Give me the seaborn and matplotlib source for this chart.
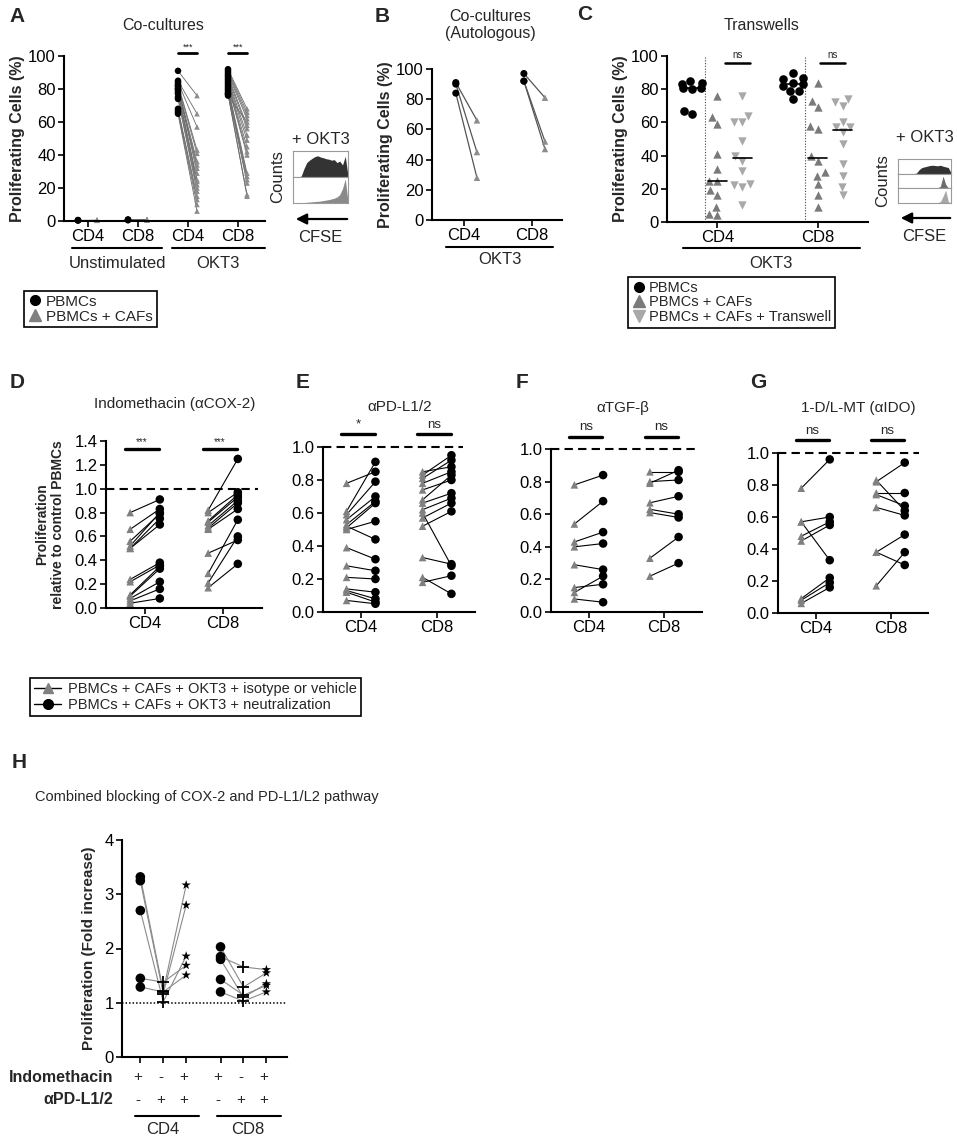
import numpy as np
import pandas as pd
import seaborn as sns
import matplotlib.pyplot as plt
from matplotlib.lines import Line2D

# ---------------- data ----------------
# A: co-cultures (% proliferating), PBMCs vs PBMCs + CAFs
a_unstim_cd4_pbmc = [0.5, 0.3, 0.6, 0.4]
a_unstim_cd4_caf = [0.5, 0.4, 0.6, 0.5]
a_unstim_cd8_pbmc = [0.8, 0.5, 0.9, 0.6]
a_unstim_cd8_caf = [0.9, 0.6, 1.0, 0.7]
a_okt3_cd4_pbmc = [91, 85, 84, 83, 82, 81, 80, 80, 79, 78, 77, 75, 74, 68, 67, 66, 65, 82]
a_okt3_cd4_caf = [76, 65, 57, 43, 41, 36, 34, 32, 25, 24, 22, 20, 18, 15, 13, 10, 6, 29]
a_okt3_cd8_pbmc = [92, 91, 90, 89, 88, 87, 86, 85, 84, 83, 82, 81, 80, 79, 78, 77, 77, 76]
a_okt3_cd8_caf = [68, 66, 64, 62, 58, 56, 52, 49, 45, 42, 40, 29, 27, 25, 23, 16, 15, 60]
a_ticklabels = ["CD4", "CD8", "CD4", "CD8"]

# flow cytometry histograms (relative counts along CFSE)
a_hist_okt3 = [0, 0, 0, 0.04, 0.35, 0.6, 0.7, 0.78, 0.85, 0.88, 0.83, 0.8, 0.76, 0.74, 0.7, 0.72, 0.6, 0.66, 0.5, 0.86, 0.05]
a_hist_caf = [0, 0, 0, 0, 0.02, 0.03, 0.04, 0.05, 0.06, 0.07, 0.08, 0.1, 0.12, 0.14, 0.17, 0.2, 0.25, 0.35, 0.6, 1.0, 0.05]
c_hist_okt3 = [0, 0, 0, 0, 0, 0, 0, 0.05, 0.3, 0.45, 0.5, 0.55, 0.6, 0.62, 0.6, 0.58, 0.62, 0.55, 0.5, 0.45, 0.05]
c_hist_caf = [0, 0, 0, 0, 0, 0, 0, 0, 0, 0, 0, 0, 0, 0.01, 0.02, 0.05, 0.15, 0.9, 0.3, 0.02, 0]
c_hist_tw = [0, 0, 0, 0, 0, 0, 0, 0, 0, 0, 0, 0, 0, 0.01, 0.02, 0.04, 0.1, 0.5, 0.95, 0.1, 0]

# B: autologous co-cultures
b_cd4_pbmc = [91, 90, 84]
b_cd4_caf = [66, 45, 28]
b_cd8_pbmc = [97, 92, 92]
b_cd8_caf = [81, 52, 47]

# C: transwells
c_cd4_pbmc = [84, 83, 85, 81, 81, 80, 67, 65]
c_cd4_caf = [76, 63, 59, 41, 32, 25, 25, 19, 16, 9, 5, 4]
c_cd4_tw = [76, 64, 60, 60, 49, 40, 37, 31, 23, 22, 21, 10]
c_cd8_pbmc = [90, 87, 86, 84, 83, 82, 79, 79, 74]
c_cd8_caf = [84, 73, 69, 58, 56, 40, 37, 30, 28, 23, 16, 9]
c_cd8_tw = [74, 72, 70, 60, 57, 57, 54, 47, 35, 28, 21, 16]

# D-G: proliferation relative to control PBMCs (isotype -> neutralization)
d_cd4_iso = [0.80, 0.66, 0.56, 0.52, 0.50, 0.50, 0.24, 0.22, 0.11, 0.10, 0.08, 0.06, 0.04]
d_cd4_neu = [0.91, 0.83, 0.79, 0.80, 0.75, 0.70, 0.38, 0.36, 0.35, 0.33, 0.22, 0.16, 0.08]
d_cd8_iso = [0.82, 0.80, 0.73, 0.72, 0.69, 0.67, 0.66, 0.46, 0.29, 0.21, 0.17]
d_cd8_neu = [1.25, 0.97, 0.95, 0.93, 0.90, 0.88, 0.83, 0.57, 0.74, 0.60, 0.37]

e_cd4_iso = [0.78, 0.61, 0.59, 0.56, 0.53, 0.51, 0.50, 0.52, 0.39, 0.28, 0.21, 0.14, 0.13, 0.12, 0.07]
e_cd4_neu = [0.85, 0.91, 0.79, 0.70, 0.67, 0.66, 0.55, 0.44, 0.32, 0.25, 0.20, 0.12, 0.08, 0.06, 0.05]
e_cd8_iso = [0.85, 0.83, 0.81, 0.78, 0.74, 0.68, 0.66, 0.62, 0.57, 0.60, 0.52, 0.33, 0.21, 0.18]
e_cd8_neu = [0.88, 0.95, 0.92, 0.85, 0.80, 0.83, 0.72, 0.69, 0.66, 0.28, 0.61, 0.29, 0.11, 0.22]

f_cd4_iso = [0.78, 0.54, 0.43, 0.40, 0.29, 0.15, 0.12, 0.08]
f_cd4_neu = [0.84, 0.68, 0.49, 0.42, 0.26, 0.17, 0.22, 0.06]
f_cd8_iso = [0.86, 0.79, 0.80, 0.67, 0.63, 0.61, 0.33, 0.22]
f_cd8_neu = [0.86, 0.87, 0.81, 0.71, 0.60, 0.58, 0.46, 0.30]

g_cd4_iso = [0.78, 0.57, 0.57, 0.48, 0.45, 0.09, 0.08, 0.06]
g_cd4_neu = [0.96, 0.60, 0.33, 0.57, 0.55, 0.22, 0.19, 0.16]
g_cd8_iso = [0.82, 0.83, 0.75, 0.74, 0.66, 0.38, 0.38, 0.17]
g_cd8_neu = [0.94, 0.64, 0.75, 0.67, 0.61, 0.49, 0.30, 0.38]

# H: fold increase, per donor: Indomethacin / aPD-L1/2 / both
h_cd4_indo = [3.32, 3.25, 2.70, 1.45, 1.29]
h_cd4_pdl = [1.22, 1.17, 1.02, 1.38, 1.20]
h_cd4_both = [3.17, 2.80, 1.86, 1.69, 1.51]
h_cd8_indo = [1.85, 2.03, 1.80, 1.43, 1.20]
h_cd8_pdl = [1.66, 1.29, 1.10, 1.14, 1.03]
h_cd8_both = [1.61, 1.55, 1.35, 1.32, 1.20]
h_indo_signs = ["+", "-", "+", "+", "-", "+"]
h_pdl_signs = ["-", "+", "+", "-", "+", "+"]

# ---------------- figure ----------------
sns.set_style("ticks")
plt.rcParams['font.family'] = ['Liberation Sans', 'DejaVu Sans']

W, H = 957, 1139
fig = plt.figure(figsize=(W / 100, H / 100), dpi=100)


def rect(l, t, r, b):
    return [l / W, 1 - b / H, (r - l) / W, (b - t) / H]


def fx(x):
    return x / W


def fy(y):
    return 1 - y / H


def style_axis(ax):
    sns.despine(ax=ax)
    for s in ["left", "bottom"]:
        ax.spines[s].set_linewidth(1.5)
        ax.spines[s].set_color("k")
    ax.tick_params(direction="out", length=4, width=1.2, labelsize=12, colors="k", pad=2)


def hline_fig(x1, x2, y, lw=1.5):
    fig.add_artist(Line2D([fx(x1), fx(x2)], [fy(y), fy(y)], color="k", lw=lw))


def letter(x, y, s):
    fig.text(fx(x), fy(y), s, fontsize=15, fontweight="bold", ha="center", va="center")


def cfse_inset(l, t, r, b, hists, colors, label_y, arrow_y):
    n = len(hists)
    step = (b - t) / n
    for k, (h, c) in enumerate(zip(hists, colors)):
        ax = fig.add_axes(rect(l, t + k * step, r, t + (k + 1) * step))
        ax.fill_between(np.arange(len(h)), h, color=c, lw=0)
        ax.set_xlim(0, len(h) - 1)
        ax.set_ylim(0, 1.08)
        ax.set_xticks([])
        ax.set_yticks([])
        for s in ax.spines.values():
            s.set_color("#9a9a9a")
            s.set_linewidth(0.8)
    fig.text(fx((l + r) / 2), fy(label_y), "+ OKT3", fontsize=12, ha="center", va="center")
    fig.text(fx(l - 8), fy((t + b) / 2), "Counts", fontsize=12, rotation=90, ha="right", va="center")
    fig.axes[0].annotate("", xy=(fx(l), fy(arrow_y)), xytext=(fx(r + 2), fy(arrow_y)),
                         xycoords="figure fraction", textcoords="figure fraction",
                         arrowprops=dict(arrowstyle="-|>", color="k", lw=1.6, mutation_scale=16),
                         annotation_clip=False)
    fig.text(fx((l + r) / 2), fy(arrow_y + 18), "CFSE", fontsize=12, ha="center", va="center")


# ---------------- A ----------------
axA = fig.add_axes(rect(64, 56, 265, 221))
pairs_A = [(a_unstim_cd4_pbmc, a_unstim_cd4_caf), (a_unstim_cd8_pbmc, a_unstim_cd8_caf),
           (a_okt3_cd4_pbmc, a_okt3_cd4_caf), (a_okt3_cd8_pbmc, a_okt3_cd8_caf)]
for i, (p, c) in enumerate(pairs_A):
    for a, b in zip(p, c):
        axA.plot([i - 0.2, i + 0.18], [a, b], color="#6a6a6a", lw=0.6, zorder=1)
    sns.scatterplot(x=[i + 0.18] * len(c), y=c, marker="^", color="#8c8c8c", s=16,
                    edgecolor="none", ax=axA, zorder=2, clip_on=False)
    sns.scatterplot(x=[i - 0.2] * len(p), y=p, marker="o", color="k", s=22,
                    edgecolor="none", ax=axA, zorder=3, clip_on=False)
axA.set_xlim(-0.48, 3.54)
axA.set_ylim(0, 100)
axA.set_yticks(range(0, 101, 20))
axA.set_xticks(range(4))
axA.set_xticklabels(a_ticklabels)
axA.set_ylabel("Proliferating Cells (%)", fontsize=11.5, fontweight="bold", labelpad=2)
style_axis(axA)
for i in [2, 3]:
    axA.plot([i - 0.2, i + 0.18], [101.8, 101.8], color="k", lw=2, clip_on=False)
    axA.text(i, 102.5, "***", fontsize=6.5, ha="center", va="bottom")
fig.text(fx(163), fy(26), "Co-cultures", fontsize=11.5, ha="center", va="center")
hline_fig(72, 162, 248)
hline_fig(172, 265, 248)
fig.text(fx(117), fy(263), "Unstimulated", fontsize=12, ha="center", va="center")
fig.text(fx(218), fy(263), "OKT3", fontsize=12, ha="center", va="center")
letter(17, 17, "A")
cfse_inset(293, 151, 348, 203, [a_hist_okt3, a_hist_caf], ["#333333", "#8a8a8a"], 140, 219)

fig.legend([Line2D([0], [0], marker="o", color="k", lw=0, markersize=7),
            Line2D([0], [0], marker="^", color="#808080", lw=0, markersize=8)],
           ["PBMCs", "PBMCs + CAFs"], loc="upper left", bbox_to_anchor=(fx(24), fy(291)),
           frameon=True, fancybox=False, edgecolor="k", fontsize=11, borderpad=0.25,
           handletextpad=0.2, labelspacing=0.05, handlelength=1.0, borderaxespad=0,
           framealpha=1).get_frame().set_linewidth(1.2)

# ---------------- B ----------------
axB = fig.add_axes(rect(432, 69, 562, 220))
for i, (p, c) in enumerate([(b_cd4_pbmc, b_cd4_caf), (b_cd8_pbmc, b_cd8_caf)]):
    for a, b in zip(p, c):
        axB.plot([i - 0.12, i + 0.19], [a, b], color="#555555", lw=0.9, zorder=1)
    sns.scatterplot(x=[i + 0.19] * len(c), y=c, marker="^", color="#8c8c8c", s=22,
                    edgecolor="none", ax=axB, zorder=2, clip_on=False)
    sns.scatterplot(x=[i - 0.12] * len(p), y=p, marker="o", color="k", s=26,
                    edgecolor="none", ax=axB, zorder=3, clip_on=False)
axB.set_xlim(-0.47, 1.44)
axB.set_ylim(0, 100)
axB.set_yticks(range(0, 101, 20))
axB.set_xticks([0, 1])
axB.set_xticklabels(["CD4", "CD8"])
axB.set_ylabel("Proliferating Cells (%)", fontsize=11.5, fontweight="bold", labelpad=2)
style_axis(axB)
fig.text(fx(490), fy(25), "Co-cultures\n(Autologous)", fontsize=11.5, ha="center", va="center",
         linespacing=1.1)
hline_fig(446, 553, 247)
fig.text(fx(500), fy(259), "OKT3", fontsize=12, ha="center", va="center")
letter(382, 17, "B")

# ---------------- C ----------------
axC = fig.add_axes(rect(667, 56, 868, 222))
c_order = ["CD4 PBMCs", "CD4 CAFs", "CD4 Transwell", "gap", "CD8 PBMCs", "CD8 CAFs", "CD8 Transwell"]
c_sets = [("CD4 PBMCs", c_cd4_pbmc), ("CD4 CAFs", c_cd4_caf), ("CD4 Transwell", c_cd4_tw),
          ("CD8 PBMCs", c_cd8_pbmc), ("CD8 CAFs", c_cd8_caf), ("CD8 Transwell", c_cd8_tw)]
c_df = pd.DataFrame([(g, v) for g, vals in c_sets for v in vals], columns=["group", "value"])
c_styles = {"PBMCs": ("o", "k", 6.2), "CAFs": ("^", "#7a7a7a", 6.0), "Transwell": ("v", "#a8a8a8", 6.0)}
for kind, (mk, col, sz) in c_styles.items():
    sub = c_df[c_df["group"].str.endswith(kind)]
    sns.swarmplot(data=sub, x="group", y="value", order=c_order, marker=mk, color=col,
                  size=sz, linewidth=0, ax=axC, zorder=3, clip_on=False, warn_thresh=1)
for g, vals in c_sets:
    pos = c_order.index(g)
    axC.plot([pos - 0.38, pos + 0.38], [np.median(vals)] * 2, color="k", lw=1.2, zorder=4)
for xv in [0.5, 4.5]:
    axC.plot([xv, xv], [0, 100], color="#444444", lw=0.8, ls=(0, (1, 1.5)), zorder=1)
for x1, x2 in [(1.3, 2.3), (5.1, 6.1)]:
    axC.plot([x1, x2], [95.5, 95.5], color="k", lw=1.8, clip_on=False)
    axC.text((x1 + x2) / 2, 97.5, "ns", fontsize=7, ha="center", va="bottom")
axC.set_xlim(-1, 7)
axC.set_ylim(0, 100)
axC.set_yticks(range(0, 101, 20))
axC.set_xticks([1, 5])
axC.set_xticklabels(["CD4", "CD8"])
axC.set_xlabel("")
axC.set_ylabel("Proliferating Cells (%)", fontsize=11.5, fontweight="bold", labelpad=2)
style_axis(axC)
fig.text(fx(762), fy(26), "Transwells", fontsize=11.5, ha="center", va="center")
hline_fig(683, 860, 248)
fig.text(fx(771), fy(263), "OKT3", fontsize=12, ha="center", va="center")
letter(585, 15, "C")
cfse_inset(898, 159, 951, 203, [c_hist_okt3, c_hist_caf, c_hist_tw],
           ["#333333", "#6e6e6e", "#a8a8a8"], 137, 218)

fig.legend([Line2D([0], [0], marker="o", color="k", lw=0, markersize=7),
            Line2D([0], [0], marker="^", color="#7a7a7a", lw=0, markersize=9),
            Line2D([0], [0], marker="v", color="#a8a8a8", lw=0, markersize=9)],
           ["PBMCs", "PBMCs + CAFs", "PBMCs + CAFs + Transwell"], loc="upper left",
           bbox_to_anchor=(fx(628), fy(277)), frameon=True, fancybox=False, edgecolor="k",
           fontsize=10.5, borderpad=0.25, handletextpad=0.2, labelspacing=0.05,
           handlelength=1.0, borderaxespad=0, framealpha=1).get_frame().set_linewidth(1.2)


# ---------------- D-G ----------------
def paired_panel(box, sets, ymax, sig, sig_y, sig_text_y, sig_fs, dash_end):
    ax = fig.add_axes(rect(*box))
    for i, (iso, neu) in enumerate(sets):
        for a, b in zip(iso, neu):
            ax.plot([i - 0.19, i + 0.19], [a, b], color="k", lw=0.8, zorder=1)
        sns.scatterplot(x=[i - 0.19] * len(iso), y=iso, marker="^", color="#808080", s=30,
                        edgecolor="none", ax=ax, zorder=2, clip_on=False)
        sns.scatterplot(x=[i + 0.19] * len(neu), y=neu, marker="o", color="k", s=38,
                        edgecolor="none", ax=ax, zorder=3, clip_on=False)
        ax.plot([i - 0.26, i + 0.18], [sig_y, sig_y], color="k", lw=2.4, clip_on=False)
        ax.text(i - 0.04, sig_text_y, sig[i], fontsize=sig_fs, ha="center", va="bottom")
    ax.plot([-0.5, dash_end], [1.0, 1.0], color="k", lw=1.5, ls=(0, (4, 2.5)), clip_on=False, zorder=0)
    ax.set_xlim(-0.5, 1.5)
    ax.set_ylim(0, ymax)
    ax.set_yticks(np.round(np.arange(0, ymax + 0.01, 0.2), 1))
    ax.set_yticklabels([f"{v:.1f}" for v in np.arange(0, ymax + 0.01, 0.2)])
    ax.set_xticks([0, 1])
    ax.set_xticklabels(["CD4", "CD8"])
    style_axis(ax)
    return ax


axD = paired_panel((106, 441, 262, 608), [(d_cd4_iso, d_cd4_neu), (d_cd8_iso, d_cd8_neu)], 1.4,
                   ["***", "***"], 1.335, 1.345, 7, 1.45)
axD.set_ylabel("Proliferation\nrelative to control PBMCs", fontsize=10, fontweight="bold",
               labelpad=7, linespacing=1.15)
axE = paired_panel((323, 447, 475, 612), [(e_cd4_iso, e_cd4_neu), (e_cd8_iso, e_cd8_neu)], 1.0,
                   ["*", "ns"], 1.08, 1.1, 9.5, 1.34)
axF = paired_panel((551, 449, 702, 612), [(f_cd4_iso, f_cd4_neu), (f_cd8_iso, f_cd8_neu)], 1.0,
                   ["ns", "ns"], 1.075, 1.1, 9.5, 1.45)
axG = paired_panel((778, 453, 928, 613), [(g_cd4_iso, g_cd4_neu), (g_cd8_iso, g_cd8_neu)], 1.0,
                   ["ns", "ns"], 1.08, 1.1, 9.5, 1.38)

fig.text(fx(175), fy(404), "Indomethacin (\u03b1COX-2)", fontsize=11, ha="center", va="center")
fig.text(fx(400), fy(407), "\u03b1PD-L1/2", fontsize=11, ha="center", va="center")
fig.text(fx(623), fy(408), "\u03b1TGF-\u03b2", fontsize=11, ha="center", va="center")
fig.text(fx(858), fy(408), "1-D/L-MT (\u03b1IDO)", fontsize=11, ha="center", va="center")
letter(17, 383, "D")
letter(303, 383, "E")
letter(522, 383, "F")
letter(758, 383, "G")

fig.legend([Line2D([0], [0], marker="^", color="k", markerfacecolor="#808080",
                   markeredgecolor="#808080", lw=1, markersize=7),
            Line2D([0], [0], marker="o", color="k", lw=1, markersize=7)],
           ["PBMCs + CAFs + OKT3 + isotype or vehicle", "PBMCs + CAFs + OKT3 + neutralization"],
           loc="upper left", bbox_to_anchor=(fx(30), fy(678)), frameon=True, fancybox=False,
           edgecolor="k", fontsize=10.5, borderpad=0.3, handletextpad=0.5, labelspacing=0.1,
           handlelength=1.8, borderaxespad=0, framealpha=1).get_frame().set_linewidth(1.2)

# ---------------- H ----------------
axH = fig.add_axes(rect(122, 840, 287, 1057))
h_x = [0, 1, 2, 3.5, 4.5, 5.5]
h_groups = [(h_cd4_indo, h_cd4_pdl, h_cd4_both, 0), (h_cd8_indo, h_cd8_pdl, h_cd8_both, 3)]
axH.plot([-0.8, 6.4], [1, 1], color="k", lw=1.1, ls=(0, (1, 1.3)), zorder=0)
for indo, pdl, both, k in h_groups:
    xs = h_x[k:k + 3]
    for a, b, c in zip(indo, pdl, both):
        axH.plot(xs, [a, b, c], color="#8a8a8a", lw=0.8, zorder=1)
    sns.scatterplot(x=[xs[0]] * len(indo), y=indo, marker="o", color="k", s=48,
                    edgecolor="none", ax=axH, zorder=3)
    sns.scatterplot(x=[xs[1]] * len(pdl), y=pdl, marker="+", color="k", s=70,
                    linewidth=1.3, ax=axH, zorder=3)
    sns.scatterplot(x=[xs[2]] * len(both), y=both, marker="*", color="k", s=50,
                    edgecolor="none", ax=axH, zorder=3)
axH.set_xlim(-0.8, 6.4)
axH.set_ylim(0, 4)
axH.set_yticks(range(5))
axH.set_xticks(h_x)
axH.set_xticklabels([])
axH.set_ylabel("Proliferation (Fold increase)", fontsize=11, fontweight="bold", labelpad=6)
style_axis(axH)
xt = axH.get_xaxis_transform()
for x, s1, s2 in zip(h_x, h_indo_signs, h_pdl_signs):
    axH.text(x - 0.12, -0.092, s1, transform=xt, fontsize=11, ha="center", va="center", clip_on=False)
    axH.text(x - 0.12, -0.198, s2, transform=xt, fontsize=11, ha="center", va="center", clip_on=False)
fig.text(fx(113), fy(1077), "Indomethacin", fontsize=11.5, fontweight="bold", ha="right", va="center")
fig.text(fx(113), fy(1100), "\u03b1PD-L1/2", fontsize=11.5, fontweight="bold", ha="right", va="center")
hline_fig(135, 199, 1116)
hline_fig(217, 281, 1116)
fig.text(fx(163), fy(1130), "CD4", fontsize=12, ha="center", va="center")
fig.text(fx(248), fy(1130), "CD8", fontsize=12, ha="center", va="center")
fig.text(fx(35), fy(797), "Combined blocking of COX-2 and PD-L1/L2 pathway", fontsize=10.5,
         ha="left", va="center")
letter(19, 762, "H")

fig.savefig("out.png", dpi=100)
